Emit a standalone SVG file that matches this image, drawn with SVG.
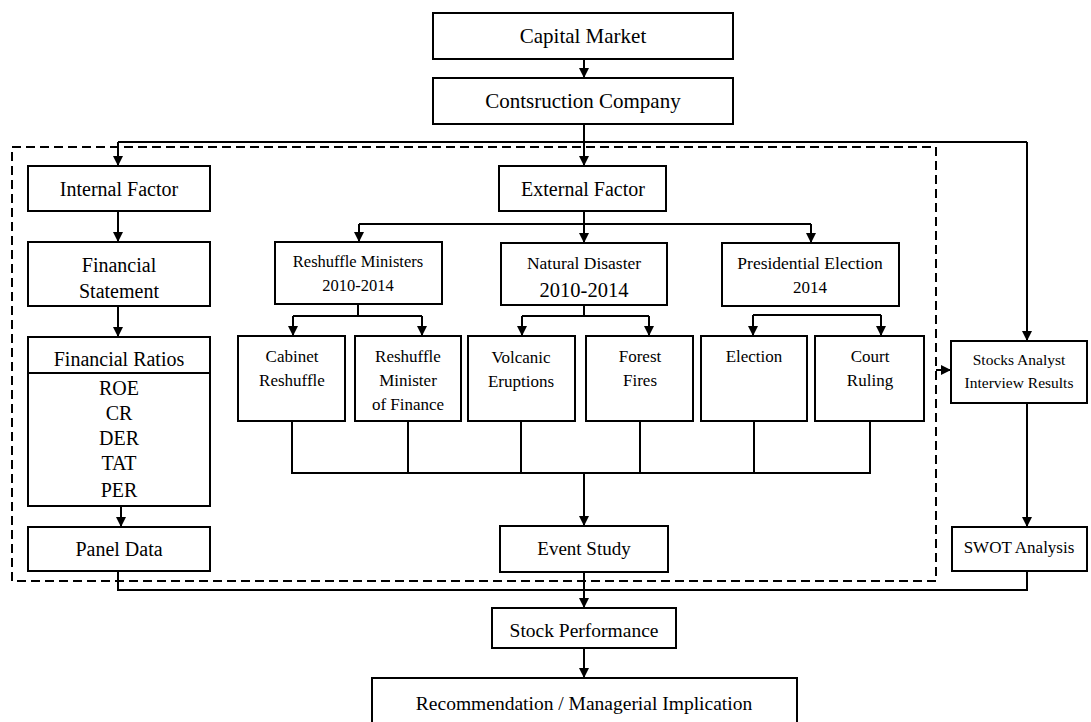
<svg xmlns="http://www.w3.org/2000/svg" width="1091" height="722" viewBox="0 0 1091 722">
<defs>
<marker id="ah" markerUnits="userSpaceOnUse" markerWidth="11" markerHeight="11" refX="10" refY="5" orient="auto">
<path d="M0,0 L10,5 L0,10 z" fill="#000"/>
</marker>
<style>
.box{fill:#fff;stroke:#000;stroke-width:2}
.t{font-family:"Liberation Serif","Times New Roman",serif;fill:#000;text-anchor:middle}
.c{fill:none;stroke:#000;stroke-width:2}
.a{fill:none;stroke:#000;stroke-width:2;marker-end:url(#ah)}
</style>
</defs>
<rect width="1091" height="722" fill="#fff"/>
<rect x="12" y="147" width="924" height="434" fill="none" stroke="#000" stroke-width="2" stroke-dasharray="9,5"/>
<g id="connectors">
<path class="a" d="M584,59 V78"/>
<path class="c" d="M584,124 V142 M118,142 H1027 M359,224 H811 M584,211 V224"/>
<path class="a" d="M118,142 V166"/>
<path class="a" d="M584,142 V166"/>
<path class="a" d="M1027,142 V341"/>
<path class="a" d="M118,211 V242"/>
<path class="a" d="M118,306 V337"/>
<path class="a" d="M121,506 V527"/>
<path class="a" d="M359,224 V242"/>
<path class="a" d="M584,224 V243"/>
<path class="a" d="M811,224 V243"/>
<path class="c" d="M358,304 V316 M293,316 H422 M584,305 V316 M522,316 H649 M753,315 H881"/>
<path class="a" d="M293,316 V336"/>
<path class="a" d="M422,316 V336"/>
<path class="a" d="M522,316 V336"/>
<path class="a" d="M649,316 V336"/>
<path class="a" d="M753,315 V336"/>
<path class="a" d="M881,315 V336"/>
<path class="c" d="M292,421 V473 H870 V421 M408,421 V473 M521,421 V473 M640,421 V473 M754,421 V473"/>
<path class="a" d="M584,473 V526" stroke-width="2.5"/>
<path class="a" d="M936,370 H951"/>
<path class="a" d="M1027,403 V527"/>
<path class="c" d="M118,571 V590 H1027 V571"/>
<path class="a" d="M584,572 V608"/>
<path class="a" d="M584,648 V678"/>
</g>
<g id="capital-market"><rect class="box" x="433" y="13" width="300" height="46"/><text class="t" x="583" y="43" font-size="21">Capital Market</text></g>
<g id="construction-company"><rect class="box" x="433" y="78" width="300" height="46"/><text class="t" x="583" y="108" font-size="21">Contsruction Company</text></g>
<g id="internal-factor"><rect class="box" x="28" y="166" width="182" height="45"/><text class="t" x="119" y="196" font-size="20">Internal Factor</text></g>
<g id="financial-statement"><rect class="box" x="28" y="242" width="182" height="64"/><text class="t" x="119" y="272" font-size="20">Financial</text><text class="t" x="119" y="298" font-size="20">Statement</text></g>
<g id="financial-ratios"><rect class="box" x="28" y="337" width="182" height="169"/><line x1="28" y1="373" x2="210" y2="373" stroke="#000" stroke-width="2"/>
<text class="t" x="119" y="366" font-size="20">Financial Ratios</text>
<text class="t" x="119" y="395" font-size="20">ROE</text>
<text class="t" x="119" y="420" font-size="20">CR</text>
<text class="t" x="119" y="445" font-size="20">DER</text>
<text class="t" x="119" y="470" font-size="20">TAT</text>
<text class="t" x="119" y="497" font-size="20">PER</text></g>
<g id="panel-data"><rect class="box" x="28" y="527" width="182" height="44"/><text class="t" x="119" y="556" font-size="20">Panel Data</text></g>
<g id="external-factor"><rect class="box" x="499" y="166" width="167" height="45"/><text class="t" x="583" y="196" font-size="20">External Factor</text></g>
<g id="reshuffle-ministers"><rect class="box" x="275" y="242" width="167" height="62"/><text class="t" x="358" y="267" font-size="16.5">Reshuffle Ministers</text><text class="t" x="358" y="291" font-size="16.5">2010-2014</text></g>
<g id="natural-disaster"><rect class="box" x="501" y="243" width="166" height="62"/><text class="t" x="584" y="269" font-size="17.5">Natural Disaster</text><text class="t" x="584" y="297" font-size="20.5">2010-2014</text></g>
<g id="presidential-election"><rect class="box" x="722" y="243" width="177" height="63"/><text class="t" x="810" y="269" font-size="17.5">Presidential Election</text><text class="t" x="810" y="293" font-size="17">2014</text></g>
<g id="cabinet-reshuffle"><rect class="box" x="238" y="336" width="107" height="85"/><text class="t" x="292" y="362" font-size="17">Cabinet</text><text class="t" x="292" y="386" font-size="17">Reshuffle</text></g>
<g id="reshuffle-minister-finance"><rect class="box" x="355" y="336" width="106" height="85"/><text class="t" x="408" y="362" font-size="17">Reshuffle</text><text class="t" x="408" y="386" font-size="17">Minister</text><text class="t" x="408" y="410" font-size="17">of Finance</text></g>
<g id="volcanic-eruptions"><rect class="box" x="468" y="336" width="107" height="85"/><text class="t" x="521" y="363" font-size="17">Volcanic</text><text class="t" x="521" y="387" font-size="17">Eruptions</text></g>
<g id="forest-fires"><rect class="box" x="586" y="336" width="107" height="85"/><text class="t" x="640" y="362" font-size="17">Forest</text><text class="t" x="640" y="386" font-size="17">Fires</text></g>
<g id="election"><rect class="box" x="701" y="336" width="106" height="85"/><text class="t" x="754" y="362" font-size="17">Election</text></g>
<g id="court-ruling"><rect class="box" x="815" y="336" width="109" height="85"/><text class="t" x="870" y="362" font-size="17">Court</text><text class="t" x="870" y="386" font-size="17">Ruling</text></g>
<g id="event-study"><rect class="box" x="500" y="526" width="168" height="46"/><text class="t" x="584" y="555" font-size="19">Event Study</text></g>
<g id="stocks-analyst"><rect class="box" x="951" y="341" width="136" height="62"/><text class="t" x="1019" y="365" font-size="15.5">Stocks Analyst</text><text class="t" x="1019" y="388" font-size="15.5">Interview Results</text></g>
<g id="swot-analysis"><rect class="box" x="952" y="527" width="135" height="44"/><text class="t" x="1019" y="553" font-size="17">SWOT Analysis</text></g>
<g id="stock-performance"><rect class="box" x="492" y="608" width="184" height="40"/><text class="t" x="584" y="637" font-size="19.5">Stock Performance</text></g>
<g id="recommendation"><rect class="box" x="372" y="678" width="425" height="50"/><text class="t" x="584" y="710" font-size="19.5">Recommendation / Managerial Implication</text></g>
</svg>
